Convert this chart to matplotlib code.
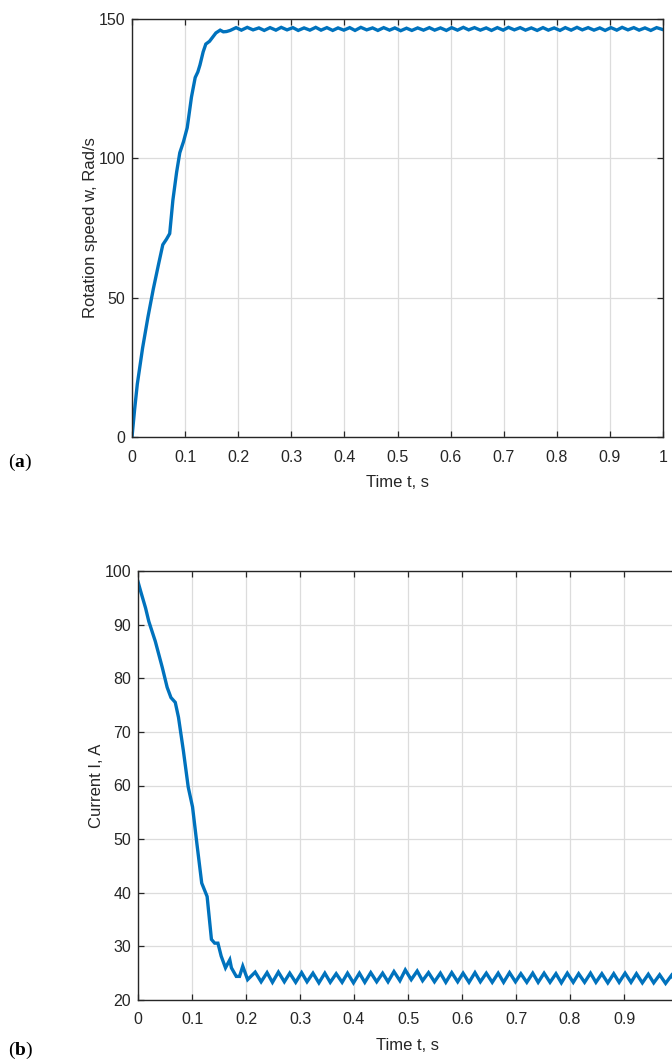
import matplotlib
matplotlib.use("Agg")
import matplotlib.pyplot as plt

# rotation speed, start-up part
t_speed_rise = [0, 0.005, 0.01, 0.02, 0.03, 0.04, 0.05, 0.058, 0.065, 0.071, 0.077,
                0.084, 0.09, 0.097, 0.104, 0.112, 0.119, 0.124, 0.128, 0.134, 0.139,
                0.146, 0.150, 0.158, 0.166, 0.172, 0.178]
speed_rise = [0, 10, 19, 32, 43, 53, 62, 69, 71, 73, 85,
              95, 102, 106, 111, 122, 129, 131, 133.5, 138.2, 141,
              142, 143, 145, 146, 145.4, 145.5]

# current, start-up part
t_current_fall = [0, 0.005, 0.014, 0.02, 0.032, 0.045, 0.054, 0.061, 0.069, 0.075,
                  0.084, 0.093, 0.101, 0.109, 0.118, 0.128, 0.136, 0.142, 0.148,
                  0.154, 0.162, 0.170, 0.173, 0.182, 0.188, 0.194, 0.203]
current_fall = [98, 96.2, 93.1, 90.6, 86.9, 82.0, 78.3, 76.4, 75.5, 72.7,
                66.5, 59.7, 56.0, 49.2, 41.8, 39.3, 31.3, 30.6, 30.6,
                28.2, 26.0, 27.5, 26.0, 24.4, 24.4, 26.3, 23.8]

# steady state ripple (peaks / troughs)
t_ripple = [0.185, 0.196, 0.206, 0.217, 0.228, 0.239, 0.249, 0.260, 0.271, 0.281,
            0.292, 0.303, 0.313, 0.324, 0.335, 0.346, 0.356, 0.367, 0.378, 0.388,
            0.399, 0.410, 0.420, 0.431, 0.442, 0.453, 0.463, 0.474, 0.485, 0.495,
            0.506, 0.517, 0.527, 0.538, 0.549, 0.560, 0.570, 0.581, 0.592, 0.602,
            0.613, 0.624, 0.634, 0.645, 0.656, 0.667, 0.677, 0.688, 0.699, 0.709,
            0.720, 0.731, 0.741, 0.752, 0.763, 0.774, 0.784, 0.795, 0.806, 0.816,
            0.827, 0.838, 0.848, 0.859, 0.870, 0.881, 0.891, 0.902, 0.913, 0.923,
            0.934, 0.945, 0.955, 0.966, 0.977, 0.988, 0.998]
speed_ripple = [145.9, 146.9, 146.0, 147.0, 146.1, 146.8, 145.9, 146.9, 146.0, 147.0,
                146.1, 146.9, 145.9, 146.8, 146.0, 147.0, 146.0, 146.9, 145.9, 146.8,
                146.0, 146.9, 145.9, 147.0, 146.1, 146.8, 145.9, 146.9, 146.0, 146.8,
                145.8, 146.7, 145.9, 146.8, 146.0, 146.9, 146.0, 146.8, 145.9, 146.9,
                146.0, 147.0, 146.1, 146.9, 146.0, 146.8, 145.9, 146.9, 146.0, 147.0,
                146.1, 146.9, 146.0, 146.8, 145.9, 146.9, 146.0, 146.8, 145.9, 146.9,
                146.0, 147.0, 146.1, 146.9, 146.0, 146.8, 145.9, 146.9, 146.0, 147.0,
                146.1, 146.9, 146.0, 146.8, 145.9, 146.9, 146.3]
current_ripple = [25.2, 23.4, 25.1, 23.3, 25.2, 23.4, 25.0, 23.3, 25.1, 23.4,
                  25.0, 23.2, 25.0, 23.3, 24.9, 23.3, 25.0, 23.2, 25.0, 23.3,
                  25.1, 23.4, 25.0, 23.4, 25.3, 23.6, 25.6, 23.8, 25.4, 23.6,
                  25.1, 23.4, 25.0, 23.3, 25.1, 23.4, 25.0, 23.3, 25.1, 23.4,
                  25.0, 23.3, 25.0, 23.3, 25.1, 23.4, 24.9, 23.3, 25.0, 23.3,
                  25.0, 23.3, 24.9, 23.2, 25.0, 23.3, 24.9, 23.3, 25.0, 23.3,
                  24.9, 23.2, 24.9, 23.3, 25.0, 23.3, 24.9, 23.2, 24.8, 23.2,
                  24.7, 23.1, 24.6, 23.0]

x_ticks = [0, 0.1, 0.2, 0.3, 0.4, 0.5, 0.6, 0.7, 0.8, 0.9, 1]
x_labels_a = ["0", "0.1", "0.2", "0.3", "0.4", "0.5", "0.6", "0.7", "0.8", "0.9", "1"]
x_labels_b = ["0", "0.1", "0.2", "0.3", "0.4", "0.5", "0.6", "0.7", "0.8", "0.9", ""]
speed_ticks = [0, 50, 100, 150]
current_ticks = [20, 30, 40, 50, 60, 70, 80, 90, 100]

t_speed = t_speed_rise + t_ripple
speed = speed_rise + speed_ripple
t_current = t_current_fall + t_ripple[3:]
current = current_fall + current_ripple

plt.rcParams["font.family"] = ["Liberation Sans", "DejaVu Sans"]
plt.rcParams["mathtext.fontset"] = "custom"
plt.rcParams["mathtext.rm"] = "Liberation Serif"
plt.rcParams["mathtext.bf"] = "Liberation Serif:bold"

dark = "#262626"
line_color = "#0072BD"

fig = plt.figure(figsize=(6.72, 10.63), dpi=100)
ax1 = fig.add_axes([132 / 672, 1 - 437 / 1063, 531 / 672, 418 / 1063])
ax2 = fig.add_axes([138 / 672, 1 - 1000 / 1063, 540 / 672, 429 / 1063])

panels = [(ax1, t_speed, speed, speed_ticks, x_labels_a, "Rotation speed w, Rad/s"),
          (ax2, t_current, current, current_ticks, x_labels_b, "Current I, A")]
for ax, t, y, yticks, xlabels, ylabel in panels:
    ax.plot(t, y, color=line_color, linewidth=2.4, solid_joinstyle="miter")
    ax.set_xlim(0, 1)
    ax.set_ylim(yticks[0], yticks[-1])
    ax.set_xticks(x_ticks)
    ax.set_xticklabels(xlabels)
    ax.set_yticks(yticks)
    ax.grid(True, color="#dcdcdc", linewidth=0.9)
    ax.set_axisbelow(True)
    ax.tick_params(direction="in", length=4, width=0.9, colors=dark, labelsize=11.5,
                   top=True, right=True)
    ax.tick_params(axis="x", pad=9)
    ax.tick_params(axis="y", pad=5)
    for s in ax.spines.values():
        s.set_color(dark)
        s.set_linewidth(1.0)
    ax.set_xlabel("Time t, s", fontsize=12, color=dark)
    ax.set_ylabel(ylabel, fontsize=12, color=dark)
    ax.xaxis.set_label_coords(0.5, -38 / (ax.get_position().height * 1063))
    ax.yaxis.set_label_coords(-34 / (ax.get_position().width * 672), 0.5)

fig.text(8 / 672, 1 - 462 / 1063, r"$\mathrm{(}\mathbf{a}\mathrm{)}$", fontsize=14,
         va="center", ha="left", color="black")
fig.text(8 / 672, 1 - 1050 / 1063, r"$\mathrm{(}\mathbf{b}\mathrm{)}$", fontsize=14,
         va="center", ha="left", color="black")

fig.savefig("out.png", dpi=100)
